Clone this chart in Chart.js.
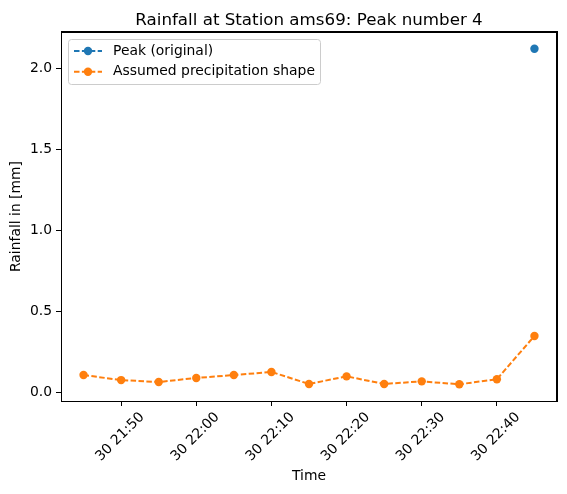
<!DOCTYPE html>
<html>
<head>
<meta charset="utf-8">
<script src="https://cdn.jsdelivr.net/npm/chart.js@4"></script>
<style>
  body { margin: 0; background: #fff; }
  canvas { display: block; }
</style>
</head>
<body>
<canvas id="myChart" width="567" height="494"></canvas>
<script>
// data (times on day 30)
var shapeTimes = ['21:45', '21:50', '21:55', '22:00', '22:05', '22:10', '22:15',
                  '22:20', '22:25', '22:30', '22:35', '22:40', '22:45'];
var shapeValues = [0.109, 0.078, 0.066, 0.091, 0.109, 0.128, 0.054,
                   0.101, 0.054, 0.070, 0.052, 0.083, 0.350];
var peakTimes = ['22:45'];
var peakValues = [2.121];
var xTickLabels = ['21:50', '22:00', '22:10', '22:20', '22:30', '22:40'];
var yTickValues = [0.0, 0.5, 1.0, 1.5, 2.0];
var chartTitle = 'Rainfall at Station ams69: Peak number 4';

function toMin(t) {
	var p = t.split(':');
	return parseInt(p[0]) * 60 + parseInt(p[1]);
}
function pad(n) { return (n < 10 ? '0' : '') + n; }
function fmt(m) { return '30 ' + pad(Math.floor(m / 60)) + ':' + pad(m % 60); }

function pairs(times, vals) {
	return times.map(function(t, i) { return { x : toMin(t), y : vals[i] }; });
}

var FONT = "'DejaVu Sans', sans-serif";
var BLUE = '#1f77b4', ORANGE = '#ff7f0e';

var boxPlugin = {
	id : 'axesBox',
	afterDraw : function(chart) {
		var c = chart.ctx, a = chart.chartArea;
		var l = Math.round(a.left), r = Math.round(a.right);
		var t = Math.round(a.top), b = Math.round(a.bottom);
		c.save();
		// frame: top and right sides
		c.fillStyle = '#000000';
		c.fillRect(l, t - 1, r - l + 1, 2);
		c.fillRect(r - 1, t - 1, 2, b - t + 2);

		// title centred over the plot
		c.font = '16.7px ' + FONT;
		c.textAlign = 'center';
		c.textBaseline = 'alphabetic';
		c.fillText(chartTitle, (a.left + a.right) / 2, t - 7);

		// legend box in the upper left corner
		var x0 = a.left + 7, y0 = a.top + 7, w = 252, h = 45;
		c.fillStyle = 'rgba(255,255,255,0.8)';
		c.strokeStyle = '#cccccc';
		c.lineWidth = 1;
		c.beginPath();
		c.roundRect(x0 + 0.5, y0 + 0.5, w, h, 3);
		c.fill();
		c.stroke();
		c.font = '13.9px ' + FONT;
		c.textAlign = 'left';
		c.textBaseline = 'middle';
		chart.data.datasets.forEach(function(ds, i) {
			var yy = y0 + 12 + i * 20.7;
			c.strokeStyle = ds.borderColor;
			c.lineWidth = 2;
			c.setLineDash(ds.borderDash);
			c.beginPath();
			c.moveTo(x0 + 6, yy);
			c.lineTo(x0 + 34, yy);
			c.stroke();
			c.setLineDash([]);
			c.fillStyle = ds.pointBackgroundColor;
			c.beginPath();
			c.arc(x0 + 20, yy, 4.2, 0, Math.PI * 2);
			c.fill();
			c.fillStyle = '#000000';
			c.fillText(ds.label, x0 + 45, yy);
		});
		c.restore();
	}
};

var el = document.getElementById('myChart');

var myChart = new Chart(el, {
	type : 'line',
	data : {
		datasets : [
				{
					label : 'Peak (original)',
					data : pairs(peakTimes, peakValues),
					borderColor : BLUE,
					backgroundColor : BLUE,
					pointBackgroundColor : BLUE,
					borderDash : [ 5.5, 2.4 ],
					borderWidth : 2,
					pointRadius : 4.2,
					pointBorderWidth : 0,
					pointHoverRadius : 4.2
				},
				{
					label : 'Assumed precipitation shape',
					data : pairs(shapeTimes, shapeValues),
					borderColor : ORANGE,
					backgroundColor : ORANGE,
					pointBackgroundColor : ORANGE,
					borderDash : [ 5.5, 2.4 ],
					borderWidth : 2,
					pointRadius : 4.2,
					pointBorderWidth : 0,
					pointHoverRadius : 4.2
				} ]
	},
	options : {
		responsive : false,
		animation : false,
		events : [],
		layout : { padding : { left : 0, right : 10, top : 32, bottom : 0 } },
		plugins : {
			legend : { display : false },
			tooltip : { enabled : false },
			title : { display : false }
		},
		scales : {
			x : {
				type : 'linear',
				min : toMin('21:42'),
				max : toMin('22:48'),
				afterBuildTicks : function(scale) {
					scale.ticks = xTickLabels.map(function(t) { return { value : toMin(t) }; });
				},
				afterFit : function(scale) { scale.height = 93; },
				grid : { drawOnChartArea : false, drawTicks : true, tickLength : 5, color : '#000' },
				border : { display : true, color : '#000' },
				ticks : {
					autoSkip : false,
					minRotation : 45,
					maxRotation : 45,
					labelOffset : 21,
					padding : 3,
					color : '#000',
					font : { family : FONT, size : 13.9 },
					callback : function(v) { return fmt(v); }
				},
				title : {
					display : true,
					text : 'Time',
					color : '#000',
					font : { family : FONT, size : 13.9 },
					padding : { top : 4, bottom : 9 }
				}
			},
			y : {
				type : 'linear',
				min : -0.051,
				max : 2.224,
				afterBuildTicks : function(scale) {
					scale.ticks = yTickValues.map(function(v) { return { value : v }; });
				},
				afterFit : function(scale) { scale.width = 61; },
				grid : { drawOnChartArea : false, drawTicks : true, tickLength : 5, color : '#000' },
				border : { display : true, color : '#000' },
				ticks : {
					padding : 4,
					color : '#000',
					font : { family : FONT, size : 13.9 },
					callback : function(v) { return v.toFixed(1); }
				},
				title : {
					display : true,
					text : 'Rainfall in [mm]',
					color : '#000',
					font : { family : FONT, size : 13.9 },
					padding : { top : 8, bottom : 4 }
				}
			}
		}
	},
	plugins : [ boxPlugin ]
});
</script>
</body>
</html>
